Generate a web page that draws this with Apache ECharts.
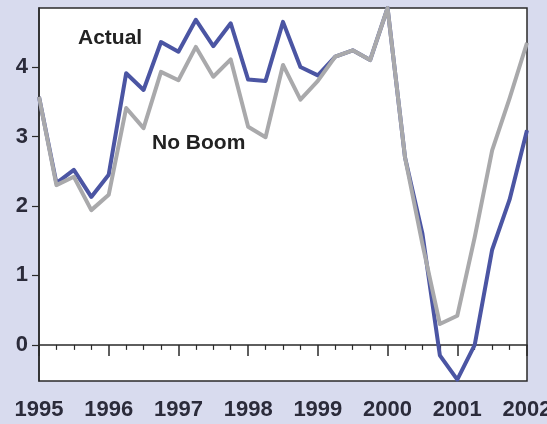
<!DOCTYPE html>
<html>
<head>
<meta charset="utf-8">
<script src="https://cdn.jsdelivr.net/npm/echarts@6/dist/echarts.min.js"></script>
<style>
html,body{margin:0;padding:0;background:#d8dbee;}
#c{width:547px;height:424px;}
</style>
</head>
<body>
<div id="c"></div>
<script>
// Quarterly periods, 1995Q1 .. 2002Q1
var quarters = [];
for (var i = 0; i <= 28; i++) quarters.push(1995 + i / 4);

var actual = [3.57, 2.33, 2.52, 2.13, 2.45, 3.91, 3.67, 4.36, 4.22, 4.68, 4.30, 4.63, 3.82, 3.80, 4.65,
              4.00, 3.88, 4.15, 4.24, 4.10, 4.85, 2.70, 1.60, -0.15, -0.50, 0.00, 1.37, 2.09, 3.09];
var noBoom = [3.57, 2.30, 2.42, 1.94, 2.16, 3.41, 3.12, 3.93, 3.81, 4.29, 3.86, 4.11, 3.14, 2.99, 4.03,
              3.53, 3.80, 4.15, 4.24, 4.10, 4.85, 2.70, 1.45, 0.30, 0.42, 1.55, 2.80, 3.55, 4.35];
var yearTicks = [1995, 1996, 1997, 1998, 1999, 2000, 2001, 2002];
var yTicks = [0, 1, 2, 3, 4];
var seriesNames = ['Actual', 'No Boom'];

function pairs(xs, ys) { return xs.map(function (x, i) { return [x, ys[i]]; }); }

var chart = echarts.init(document.getElementById('c'), null, {renderer: 'canvas'});
var font = 'Liberation Sans, Arial, sans-serif';
chart.setOption({
  animation: false,
  backgroundColor: '#d8dbee',
  grid: {left: 39, right: 20, top: 8, bottom: 43, show: true, backgroundColor: '#ffffff',
         borderColor: '#2a2a2a', borderWidth: 1.5, containLabel: false, outerBoundsMode: 'none'},
  xAxis: {
    type: 'value', min: 1995, max: 2002, interval: 1,
    axisLine: {show: true, lineStyle: {color: '#2a2a2a', width: 1.5}},
    axisTick: {show: true, length: 11, lineStyle: {color: '#2a2a2a', width: 1.5}},
    minorTick: {show: true, splitNumber: 4, length: 5, lineStyle: {color: '#2a2a2a', width: 1.2}},
    splitLine: {show: false},
    axisLabel: {margin: 18, fontFamily: font, fontWeight: 'bold', fontSize: 22, color: '#2b2b3a',
                hideOverlap: false, showMaxLabel: true, showMinLabel: true,
                formatter: function (v) { return String(v); }}
  },
  yAxis: {
    type: 'value', min: -0.52, max: 4.85,
    axisLine: {show: true, lineStyle: {color: '#2a2a2a', width: 1.5}},
    axisTick: {show: true, length: 7, customValues: yTicks, lineStyle: {color: '#2a2a2a', width: 1.2}},
    splitLine: {show: false},
    axisLabel: {customValues: yTicks, margin: 11, fontFamily: font, fontWeight: 'bold', fontSize: 22, color: '#2b2b3a'}
  },
  series: [
    {name: seriesNames[0], type: 'line', data: pairs(quarters, actual), symbol: 'none',
     lineStyle: {color: '#4b55a3', width: 4, join: 'round'}},
    {name: seriesNames[1], type: 'line', data: pairs(quarters, noBoom), symbol: 'none',
     lineStyle: {color: '#a9a9ab', width: 4, join: 'round'}}
  ],
  graphic: [
    {type: 'text', left: 78, top: 28, style: {text: seriesNames[0], font: 'bold 21px ' + font, fill: '#222'}},
    {type: 'text', left: 152, top: 133, style: {text: seriesNames[1], font: 'bold 21px ' + font, fill: '#222'}}
  ]
});
</script>
</body>
</html>
